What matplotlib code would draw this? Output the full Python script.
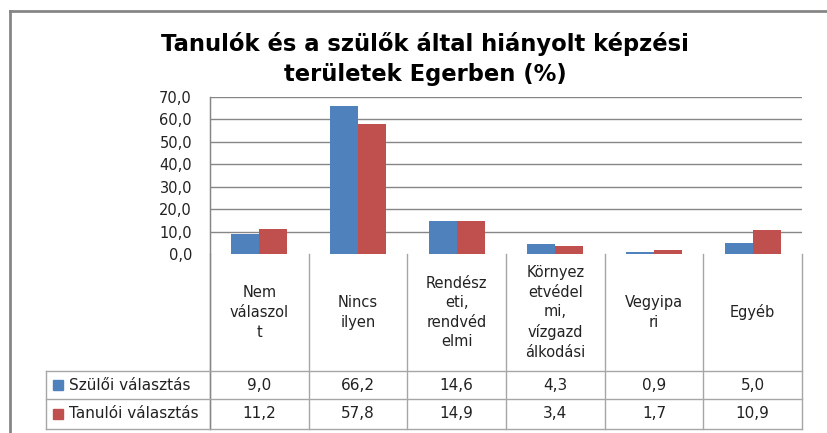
import numpy as np
import matplotlib.pyplot as plt
from matplotlib.lines import Line2D
from matplotlib.patches import Rectangle

# adatok
categories = ['Nem\nválaszol\nt', 'Nincs\nilyen', 'Rendész\neti,\nrendvéd\nelmi',
              'Környez\netvédel\nmi,\nvízgazd\nálkodási', 'Vegyipa\nri', 'Egyéb']
series_names = ['Szülői választás', 'Tanulói választás']
szuloi = [9.0, 66.2, 14.6, 4.3, 0.9, 5.0]
tanuloi = [11.2, 57.8, 14.9, 3.4, 1.7, 10.9]
colors = ['#4F81BD', '#C0504D']
yticks = [0, 10, 20, 30, 40, 50, 60, 70]

W, H = 828, 433
fig = plt.figure(figsize=(W / 100, H / 100), dpi=100)
plt.rcParams['font.family'] = ['DejaVu Sans']

# plot area in pixels
left, right, top, bottom = 210, 802, 97, 254
ax = fig.add_axes([left / W, 1 - bottom / H, (right - left) / W, (bottom - top) / H])

x = np.arange(len(categories))
bw = 0.284
ax.bar(x - bw / 2, szuloi, bw, color=colors[0], zorder=3)
ax.bar(x + bw / 2, tanuloi, bw, color=colors[1], zorder=3)

ax.set_xlim(-0.5, len(categories) - 0.5)
ax.set_ylim(0, 70)
ax.set_yticks(yticks)
ax.set_yticklabels([f'{v:.1f}'.replace('.', ',') for v in yticks], fontsize=10.5, color='#222222')
ax.tick_params(axis='y', length=0, pad=13)
ax.set_xticks([])
for v in yticks[1:]:
    ax.axhline(v, color='#868686', lw=1, zorder=1)
for s in ['top', 'right', 'bottom']:
    ax.spines[s].set_visible(False)
ax.spines['left'].set_color('#868686')

# overlay for table and frame, pixel coords
ov = fig.add_axes([0, 0, 1, 1], facecolor='none')
ov.set_xlim(0, W)
ov.set_ylim(H, 0)
ov.axis('off')

# outer frame
ov.add_line(Line2D([10, 10], [11, H], color='#868686', lw=2))
ov.add_line(Line2D([10, W], [11, 11], color='#868686', lw=2))

# data table
colw = (right - left) / len(categories)
row1, row2, row3 = 371, 399, 429
leg_left = 46
tc = '#A6A6A6'
for i in range(len(categories) + 1):
    xx = left + i * colw
    ov.add_line(Line2D([xx, xx], [bottom, row3], color=tc, lw=1))
ov.add_line(Line2D([left, left], [top, row3], color='#868686', lw=1))
for yy in [row1, row2, row3]:
    ov.add_line(Line2D([leg_left, right], [yy, yy], color=tc, lw=1))
ov.add_line(Line2D([leg_left, leg_left], [row1, row3], color=tc, lw=1))

for i, cat in enumerate(categories):
    cx = left + (i + 0.5) * colw
    ov.text(cx, (bottom + row1) / 2, cat, ha='center', va='center',
            fontsize=10.5, linespacing=1.38, color='#222222')
    ov.text(cx, (row1 + row2) / 2, f'{szuloi[i]:.1f}'.replace('.', ','),
            ha='center', va='center', fontsize=11, color='#222222')
    ov.text(cx, (row2 + row3) / 2, f'{tanuloi[i]:.1f}'.replace('.', ','),
            ha='center', va='center', fontsize=11, color='#222222')

for j, (name, yc) in enumerate(zip(series_names, [(row1 + row2) / 2, (row2 + row3) / 2])):
    ov.add_patch(Rectangle((53, yc - 5), 10, 10, color=colors[j]))
    ov.text(69, yc, name, ha='left', va='center', fontsize=11, color='#222222')

# title
fig.text(425 / W, 1 - 44 / H, 'Tanulók és a szülők által hiányolt képzési',
         ha='center', va='center', fontsize=16.3, fontweight='bold')
fig.text(425 / W, 1 - 75 / H, 'területek Egerben (%)',
         ha='center', va='center', fontsize=16.3, fontweight='bold')

fig.savefig('out.png', dpi=100, facecolor='white')
